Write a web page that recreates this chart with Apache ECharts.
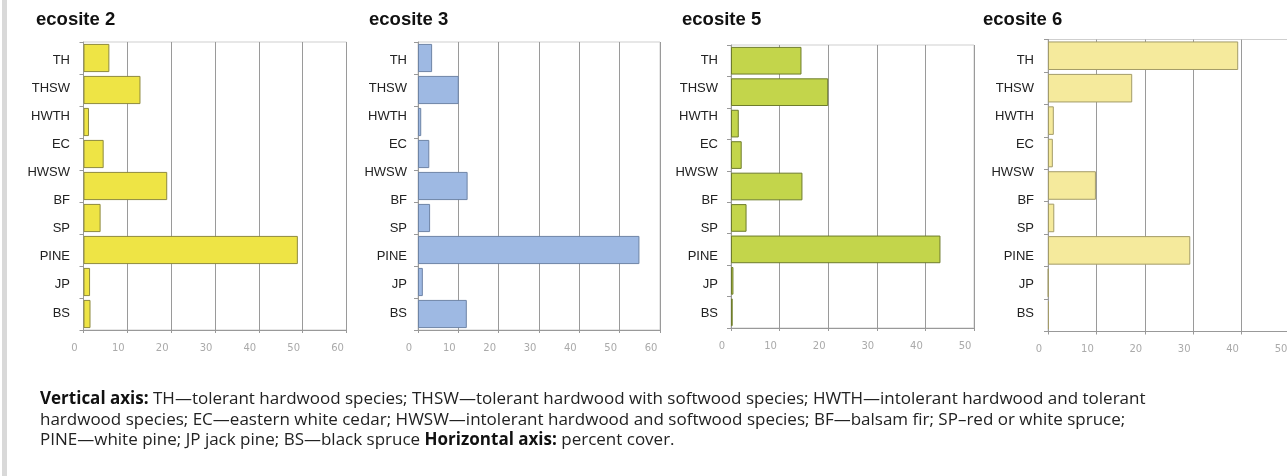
<!DOCTYPE html>
<html>
<head>
<meta charset="utf-8">
<script src="https://cdn.jsdelivr.net/npm/echarts@6/dist/echarts.min.js"></script>
<style>
html,body{margin:0;padding:0;background:#fff;overflow:hidden;width:1287px;height:476px;}
#chart{width:1300px;height:476px;}
</style>
</head>
<body>
<div id="chart"></div>
<script>
// ---- data ----
const speciesLabels = ['TH', 'THSW', 'HWTH', 'EC', 'HWSW', 'BF', 'SP', 'PINE', 'JP', 'BS'];
// the figure draws 9 bar rows under the 10 labels
const barRows = ['r1', 'r2', 'r3', 'r4', 'r5', 'r6', 'r7', 'r8', 'r9'];
const panelTitles = ['ecosite 2', 'ecosite 3', 'ecosite 5', 'ecosite 6'];
const ecosite2 = [5.9, 13.0, 1.25, 4.6, 19.1, 3.9, 48.9, 1.5, 1.6];
const ecosite3 = [3.5, 10.1, 0.8, 2.8, 12.3, 3.0, 54.9, 1.2, 12.1];
const ecosite5 = [14.5, 20.0, 1.6, 2.2, 14.7, 3.2, 43.1, 0.5, 0.35];
const ecosite6 = [39.3, 17.4, 1.2, 1.0, 9.9, 1.3, 29.4, 0.1, 0.2];
const axisMax = [60, 60, 50, 50];
const tickStep = 10;
const captionLines = [
  '{b|Vertical axis:} TH—tolerant hardwood species; THSW—tolerant hardwood with softwood species; HWTH—intolerant hardwood and tolerant',
  'hardwood species; EC—eastern white cedar; HWSW—intolerant hardwood and softwood species; BF—balsam fir; SP–red or white spruce;',
  'PINE—white pine; JP jack pine; BS—black spruce {b|Horizontal axis:} percent cover.'
];

// ---- layout / style ----
// canvas is slightly wider than the 1287px window so the last panel runs off the right edge
const W = 1300, H = 476;
const panels = [
  { values: ecosite2, left: 83.5, top: 42, bottom: 330, right: 346.5, titleLeft: 36, fill: '#EEE445', border: '#8E8A3E' },
  { values: ecosite3, left: 418, top: 42, bottom: 330, right: 660, titleLeft: 369, fill: '#9EB9E3', border: '#6E84A6' },
  { values: ecosite5, left: 731, top: 45, bottom: 328, right: 974, titleLeft: 682, fill: '#C3D54B', border: '#6E7C2C' },
  { values: ecosite6, left: 1048, top: 39.5, bottom: 331.5, right: 1290, titleLeft: 983, fill: '#F5EA9C', border: '#A39C68' }
];
const labelGap = [13.5, 11, 13, 14];

const grid = [], xAxis = [], yAxis = [], series = [], title = [];
panels.forEach((p, i) => {
  grid.push({ left: p.left, top: p.top, width: p.right - p.left, height: p.bottom - p.top,
    show: true, borderColor: '#cfcfcf', borderWidth: 1, backgroundColor: 'transparent' });
  grid.push({ left: p.left, top: 46, width: 5, height: 281, show: false });
  const gb = i * 2, gl = i * 2 + 1;
  xAxis.push({
    type: 'value', gridIndex: gb, min: 0, max: axisMax[i], interval: tickStep,
    axisLine: { show: true, lineStyle: { color: '#999', width: 1 } },
    axisTick: { show: true, length: 3, lineStyle: { color: '#999' } },
    splitLine: { show: true, lineStyle: { color: '#9a9a9a', width: 1 } },
    axisLabel: { show: true, color: '#aaa', fontSize: 10, fontFamily: 'DejaVu Sans', margin: 13,
      padding: [0, 18, 0, 0], showMaxLabel: true, showMinLabel: true }
  });
  xAxis.push({ type: 'value', gridIndex: gl, show: false, min: 0, max: 1 });
  yAxis.push({
    type: 'category', gridIndex: gb, data: barRows, inverse: true,
    axisLine: { show: true, lineStyle: { color: '#999', width: 1 } },
    axisTick: { show: true, length: 4, lineStyle: { color: '#999' } },
    axisLabel: { show: false }, splitLine: { show: false }
  });
  yAxis.push({
    type: 'category', gridIndex: gl, data: speciesLabels, inverse: true,
    axisLine: { show: false }, axisTick: { show: false }, splitLine: { show: false },
    axisLabel: { show: true, color: '#222', fontSize: 13, fontFamily: 'Liberation Sans', margin: labelGap[i] }
  });
  series.push({
    type: 'bar', xAxisIndex: gb, yAxisIndex: gb, data: p.values,
    barCategoryGap: '12%', silent: true,
    itemStyle: { color: p.fill, borderColor: p.border, borderWidth: 1 }
  });
  title.push({ text: panelTitles[i], left: p.titleLeft, top: 10, padding: 0,
    textStyle: { fontSize: 18.5, fontWeight: 'bold', color: '#111', fontFamily: 'Liberation Sans' } });
});

title.push({
  text: captionLines.join('\n'), left: 40, top: 389, padding: 0,
  textStyle: { fontSize: 17, fontWeight: 'normal', color: '#222', fontFamily: 'Open Sans', lineHeight: 20.5,
    rich: { b: { fontSize: 17, fontWeight: 'bold', color: '#111', fontFamily: 'Open Sans', lineHeight: 20.5 } } }
});

const chart = echarts.init(document.getElementById('chart'), null, { renderer: 'canvas', width: W, height: H });
chart.setOption({
  animation: false,
  backgroundColor: '#fff',
  title, grid, xAxis, yAxis, series,
  graphic: [{ type: 'rect', left: 2, top: 0, shape: { width: 5, height: H }, style: { fill: '#d9d9d9' }, silent: true }]
});
</script>
</body>
</html>
